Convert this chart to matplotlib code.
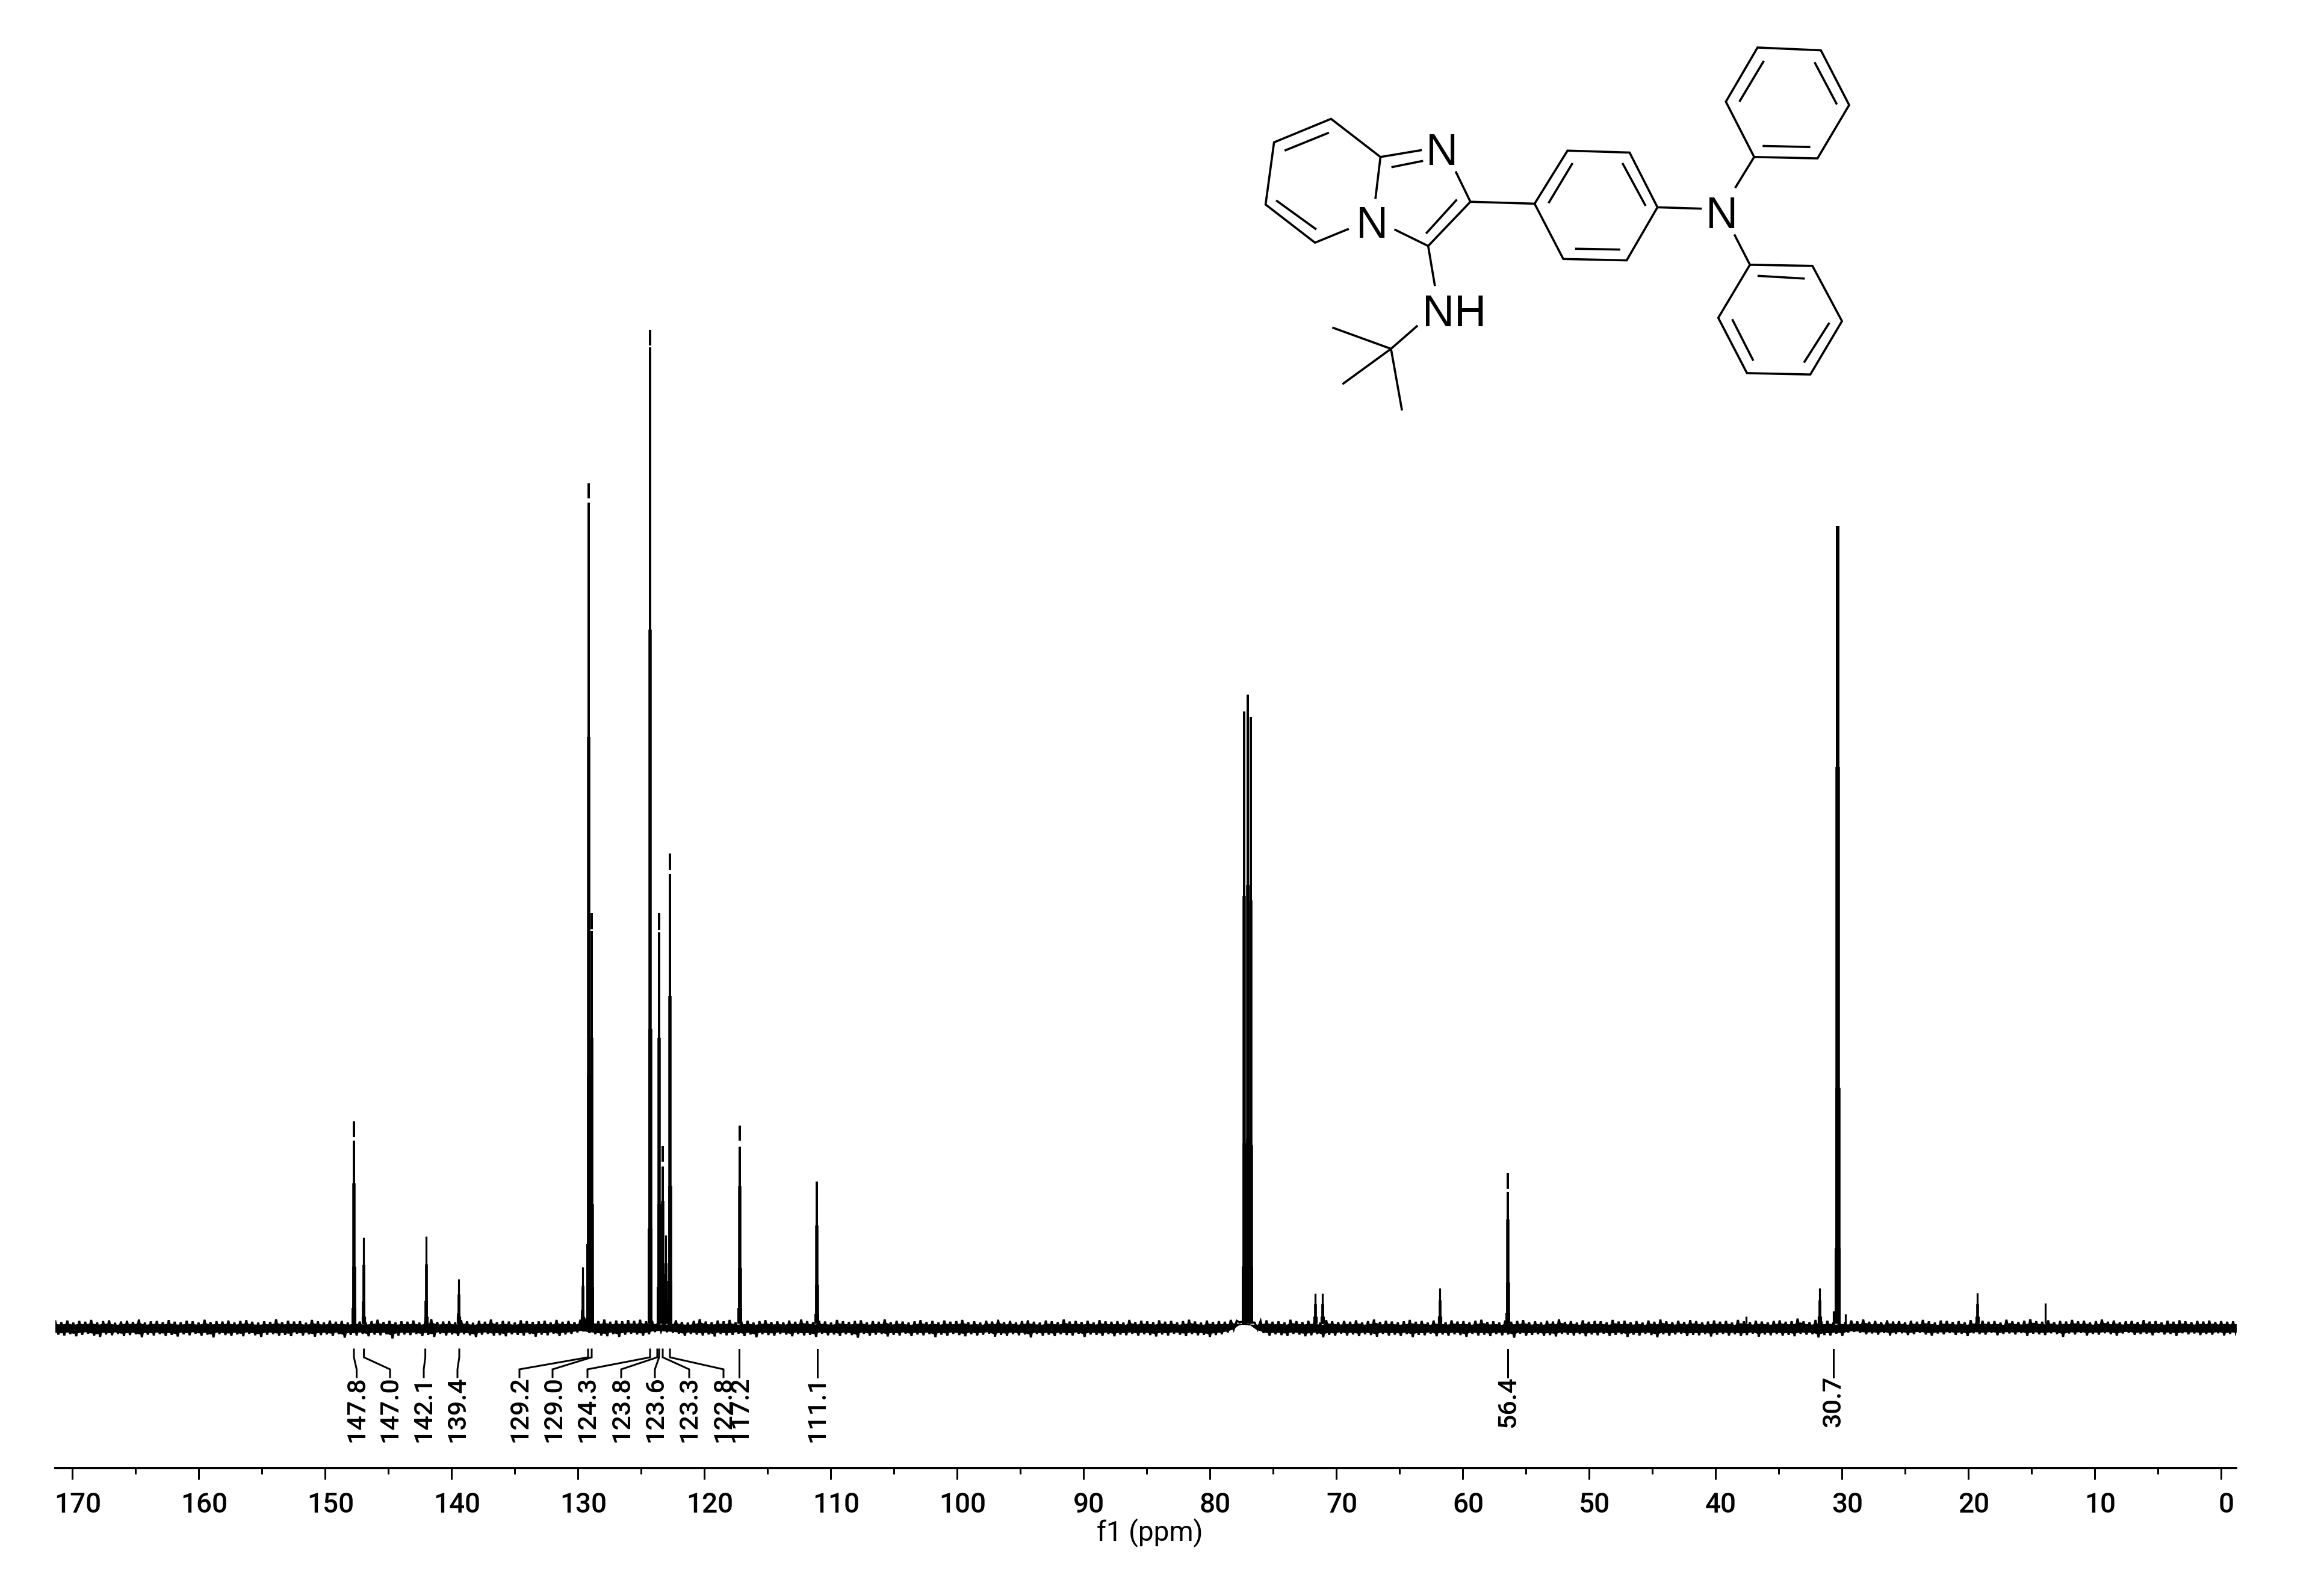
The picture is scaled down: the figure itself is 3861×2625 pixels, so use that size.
import numpy as np
import matplotlib
matplotlib.use("Agg")
import matplotlib.pyplot as plt
from matplotlib.ticker import MultipleLocator, FixedLocator, FixedFormatter
from matplotlib.transforms import ScaledTranslation

# ---------- data ----------
peak_ppm = [147.73, 146.97, 142.02, 139.44, 129.60, 129.14, 128.90, 124.29, 123.57, 123.30,
            123.07, 122.71, 117.20, 111.10, 77.29, 77.00, 76.76, 71.67, 71.10, 61.82,
            56.43, 37.57, 31.76, 30.67, 30.33, 29.71, 19.29, 13.92]
peak_height = [20.72, 9.10, 9.22, 4.94, 6.14, 84.58, 41.57, 99.94, 41.57, 18.25,
               9.34, 47.53, 20.30, 14.70, 61.75, 63.43, 61.20, 3.49, 3.49, 4.04,
               15.54, 1.20, 4.04, 1.75, 80.30, 1.45, 3.55, 2.53]
# white breaks near the top of some peaks: (ppm, upper, lower)
peak_gap_ppm = [147.73, 129.14, 128.90, 124.29, 123.57, 123.30, 122.71, 117.20, 56.43]
peak_gap_hi = [19.16, 83.07, 39.94, 98.37, 39.88, 16.69, 45.90, 18.80, 13.98]
peak_gap_lo = [18.80, 82.65, 39.76, 98.19, 39.64, 16.20, 45.48, 18.19, 13.67]

noise_hi = [
 70,62,78,58,74,66,84,60,72,80,56,68,76,64,88,58,70,74,62,82,66,60,76,70,58,86,64,72,68,78,
 60,74,82,66,58,70,64,90,62,76,68,72,56,84,70,60,78,66,74,58,80,68,62,72,86,64,76,60,70,66,
 78,58,74,92,64,68,72,60,82,70,56,76,66,88,62,74,68,58,80,72,64,70,76,60,84,66,74,62,86,100,
 84,72,88,66,78,70,82,74,86,70,76,66,60,72,80,64,58,74,92,68,62,78,70,84,60,66,76,58,72,82,
 64,70,60,78,66,88,72,62,76,68,58,84,70,64,74,80,60,72,66,90,62,76,68,58,70,82,64,74,60,78,
 66,72,84,62,70,58,76,68,86,64,74,60,72,80,66,58,78,70,62,88,68,74,64,76,60,82,70,66,72,58,
 84,64,76,70,62,80,66,74,60,72,86,68,58,78,64,72,66,84,76,70,62,58,74,80,66,70,60,86,72,64,
 76,68,58,82,70,62,74,66,80,60,72,88,64,76,68,60,70,84,66,74,58,78,70,62,80,68,72,60,76,86,
 64,70,58,78,66,74,82,62,70,60,76,68,90,64,72,58,80,66,74,70,60,84,68,76,62,72,58,78,66,88,
 70,62,76,64,82,72,60,68,78,66,74,58,84,70,62,76,68,60,74,80,66,72,98,70,62,84,68,76,60,72,
 64,78,70,88,66,74,62,80,68,72,60,76,66,84,70,58,78,74,64,72,60,82,68,76,66,72,58,86,70,64,
 76,92,72,66,80,62,74,68,84,70,76,60,72,88,66,78,62,70,74,64,82,68,72,60,76,66,80,70,62,74,
 68,78,64,72,66,70
]
noise_lo = [
 -62,-70,-56,-78,-64,-52,-72,-84,-60,-68,-54,-76,-66,-58,-88,-62,-70,-56,-74,-64,-80,-58,-68,-52,-72,-62,-90,-56,-66,-74,
 -60,-78,-54,-68,-84,-62,-56,-72,-64,-76,-52,-70,-58,-82,-66,-60,-74,-56,-92,-64,-70,-54,-78,-62,-68,-58,-100,-72,-60,-66,
 -56,-76,-64,-84,-52,-70,-60,-74,-58,-68,-86,-62,-54,-72,-66,-78,-58,-64,-70,-56,-82,-62,-68,-52,-76,-60,-54,-40,-30,-46,
 -58,-70,-78,-56,-84,-62,-52,-60,-72,-58,-36,-30,-38,-44,-52,-74,-54,-62,-70,-60,-80,-56,-68,-64,-52,-76,-60,-88,-58,-66,
 -72,-54,-62,-78,-56,-70,-64,-84,-52,-68,-60,-74,-58,-66,-92,-54,-72,-62,-56,-80,-64,-70,-52,-76,-60,-68,-56,-86,-62,-72,
 -54,-66,-78,-58,-70,-62,-52,-82,-64,-74,-56,-68,-60,-90,-54,-72,-62,-76,-58,-66,-70,-52,-84,-60,-64,-74,-56,-78,-62,-68,
 -54,-72,-58,-66,-80,-60,-70,-52,-62,-76,-56,-68,-64,-84,-66,-58,-40,-10,60,82,60,-10,-46,-72,-58,-66,-74,-54,-62,-78,
 -68,-56,-88,-64,-72,-52,-70,-60,-76,-58,-66,-82,-54,-70,-62,-74,-56,-86,-64,-68,-52,-78,-60,-72,-58,-66,-84,-54,-70,-62,
 -76,-56,-68,-60,-92,-52,-72,-64,-58,-74,-66,-80,-54,-62,-70,-56,-78,-60,-68,-52,-74,-64,-56,-84,-62,-70,-54,-66,-88,-58,
 -72,-60,-52,-76,-64,-68,-56,-80,-62,-54,-70,-58,-74,-66,-52,-82,-60,-68,-56,-72,-64,-78,-54,-62,-58,-90,-66,-70,-52,-74,
 -40,-34,-44,-58,-50,-62,-46,-70,-54,-48,-66,-56,-44,-60,-72,-50,-58,-46,-64,-52,-76,-48,-56,-62,-44,-68,-54,-50,-60,-46,
 -74,-52,-58,-66,-48,-56,-84,-50,-60,-46,-70,-54,-62,-48,-58,-72,-50,-44,-64,-56,-52,-68,-46,-60,-54,-74,-48,-58,-50,-66,
 -56,-62,-48,-70,-54,-60
]

tick_major = list(range(0, 171, 10))
tick_labels = [str(v) for v in tick_major]
peak_labels = ["147.8", "147.0", "142.1", "139.4", "129.2", "129.0", "124.3", "123.8",
               "123.6", "123.3", "122.8", "117.2", "111.1", "56.4", "30.7"]

# ---------- layout (reference pixels) ----------
W, H = 3861, 2625
AX_L, AX_R, AX_B = 92, 3715, 2439
X0, PX_PER_PPM, Y0, PX_PER_UNIT = 3690, 21.0, 2207, 16.6
label_x = [592.5, 648, 704, 760, 863.5, 920, 976, 1032.5, 1089, 1145, 1201.5, 1230, 1358, 2506, 3046]
leader_top = [588, 604.6, 706.6, 763, 977, 983, 1080, 1092, 1095, 1101, 1113, 1228, 1358, 2505, 3046]
leader_mid = [592.5, 648, 704, 760, 863, 918, 976, 1032, 1088, 1145, 1202, 1228, 1358, 2505, 3046]


def xp(px):
    return (X0 - np.asarray(px, float)) / PX_PER_PPM


def yp(py):
    return (Y0 - np.asarray(py, float)) / PX_PER_UNIT


plt.rcParams["font.family"] = ["Roboto", "DejaVu Sans"]
plt.rcParams["font.weight"] = 500
fig = plt.figure(figsize=(W / 100, H / 100), dpi=100, facecolor="white")
ax = fig.add_axes([AX_L / W, 1 - AX_B / H, (AX_R - AX_L) / W, AX_B / H])
ax.set_xlim(xp(AX_L), xp(AX_R))
ax.set_ylim(yp(AX_B), yp(0))
for s in ("top", "left", "right"):
    ax.spines[s].set_visible(False)
ax.spines["bottom"].set_linewidth(4 * 0.72)
ax.yaxis.set_visible(False)

ax.xaxis.set_major_locator(FixedLocator(tick_major))
ax.xaxis.set_major_formatter(FixedFormatter(tick_labels))
ax.xaxis.set_minor_locator(MultipleLocator(5))
ax.tick_params(axis="x", which="major", length=19 * 0.72, width=3 * 0.72, pad=20 * 0.72, labelsize=33)
ax.tick_params(axis="x", which="minor", length=10 * 0.72, width=3 * 0.72)
for lab in ax.get_xticklabels():
    lab.set_transform(lab.get_transform() + ScaledTranslation(9 / 100, 0, fig.dpi_scale_trans))
ax.set_xlabel("f1 (ppm)", fontsize=33)
ax.xaxis.set_label_coords((1910 - AX_L) / (AX_R - AX_L), -(2522 - AX_B) / AX_B)

# baseline noise: a solid core, with the trace swinging between the read envelopes
noise_y = np.ravel(np.column_stack([noise_hi, noise_lo])) / 100
noise_x = np.linspace(xp(AX_L), xp(AX_R), len(noise_y))
core_x = np.linspace(xp(AX_L), xp(AX_R), len(noise_hi))
ax.fill_between(core_x, np.array(noise_lo) * 0.006, np.array(noise_hi) * 0.006,
                color="black", lw=1, zorder=2)
ax.plot(noise_x, noise_y, color="black", lw=3.5 * 0.72, solid_joinstyle="miter", zorder=2)

# peaks
PX = 0.72
base = 0.5
gaps = {p: (h, l) for p, h, l in zip(peak_gap_ppm, peak_gap_hi, peak_gap_lo)}
for p, h in zip(peak_ppm, peak_height):
    w = 6 if p == 30.33 else (4 if h > 10 else 3.2)
    segs = [(base, h)]
    if p in gaps:
        g = gaps[p]
        segs = [(base, g[1]), (g[0], h)]
    for lo, hi in segs:
        ax.vlines(p, lo, hi, color="black", lw=w * PX, capstyle="butt", zorder=3)
    if h > 3:
        ax.vlines(p, base, h * 0.7, color="black", lw=(w + 1.5) * PX, capstyle="butt", zorder=3)
        ax.vlines(p, base, h * 0.3, color="black", lw=(w + 2.5) * PX, capstyle="butt", zorder=3)
        ax.vlines(p, base, max(h * 0.1, 1.2), color="black", lw=(w + 4) * PX, capstyle="butt", zorder=3)

# peak label leaders and text
for t, lx, a, b in zip(peak_labels, label_x, leader_top, leader_mid):
    ax.plot(xp([a, a, b, b]), yp([2242, 2255, 2275, 2288]), color="black", lw=3 * PX,
            solid_joinstyle="miter", clip_on=False, zorder=3)
    ax.text(xp(lx), yp(2286), t, rotation=90, ha="center", va="top", fontsize=31,
            color="black", zorder=4)

# structure inset: coordinates are those of its own drawing box
mol = fig.add_axes([2050 / W, 1 - 720 / H, 1100 / W, 720 / H])
mol.set_xlim(0, 1568)
mol.set_ylim(1568, 0)
mol.axis("off")
bonds = [
    [(347, 568), (230, 430), (95, 515), (75, 740), (192, 878), (272, 828)],
    [(335, 720), (347, 568), (445, 543)],
    [(225, 480), (120, 545)], [(100, 725), (195, 830)], [(373, 605), (448, 582)],
    [(525, 620), (560, 730), (460, 890), (380, 830)], [(528, 722), (455, 845)],
    [(460, 890), (476, 1035)], [(435, 1178), (372, 1262), (233, 1185)],
    [(372, 1262), (257, 1390)], [(372, 1262), (398, 1485)],
    [(560, 730), (712, 737), (790, 545), (937, 552), (1003, 750), (930, 942), (780, 937), (712, 737)],
    [(745, 735), (802, 590)], [(920, 590), (975, 745)], [(808, 900), (915, 903)],
    [(1003, 750), (1108, 755)], [(1187, 680), (1232, 568)], [(1185, 848), (1222, 958)],
    [(1232, 568), (1165, 368), (1240, 172), (1390, 182), (1457, 380), (1382, 573), (1232, 568)],
    [(1197, 368), (1255, 220)], [(1375, 225), (1428, 378)], [(1252, 528), (1365, 532)],
    [(1222, 958), (1147, 1150), (1215, 1350), (1365, 1355), (1440, 1162), (1370, 962), (1222, 958)],
    [(1180, 1155), (1230, 1305)], [(1410, 1168), (1350, 1312)], [(1240, 998), (1352, 1008)],
]
for b in bonds:
    xs, ys = zip(*b)
    mol.plot(xs, ys, color="black", lw=3.6 * PX, solid_joinstyle="miter", solid_capstyle="butt")
for t, x, y in [("N", 493, 538), ("N", 327, 802), ("N", 1155, 767), ("NH", 522, 1122)]:
    mol.text(x, y, t, ha="center", va="center_baseline", fontsize=53, color="black", weight="normal",
             family=["Liberation Sans", "DejaVu Sans"])

fig.savefig("out.png", dpi=100, facecolor="white")
